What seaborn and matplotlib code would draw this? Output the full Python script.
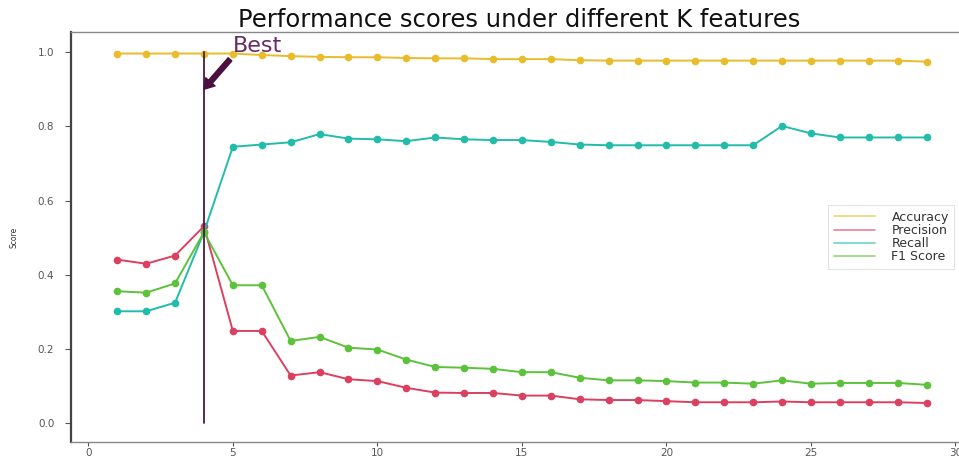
import matplotlib
matplotlib.use("Agg")
import matplotlib.pyplot as plt
from matplotlib.lines import Line2D
import numpy as np
import pandas as pd
import seaborn as sns

# Number of selected features K
k_values = list(range(1, 30))

accuracy = [0.996, 0.996, 0.996, 0.996, 0.996, 0.992, 0.989, 0.987, 0.986, 0.986,
            0.984, 0.983, 0.983, 0.981, 0.981, 0.981, 0.978, 0.977, 0.977, 0.977,
            0.977, 0.977, 0.977, 0.977, 0.977, 0.977, 0.977, 0.977, 0.974]
precision = [0.441, 0.430, 0.452, 0.531, 0.249, 0.249, 0.129, 0.138, 0.119, 0.114,
             0.096, 0.083, 0.082, 0.082, 0.075, 0.075, 0.065, 0.063, 0.063, 0.060,
             0.057, 0.057, 0.057, 0.059, 0.057, 0.057, 0.057, 0.057, 0.055]
recall = [0.302, 0.302, 0.325, 0.515, 0.745, 0.751, 0.757, 0.779, 0.767, 0.765,
          0.760, 0.770, 0.765, 0.763, 0.763, 0.758, 0.751, 0.749, 0.749, 0.749,
          0.749, 0.749, 0.749, 0.801, 0.781, 0.770, 0.770, 0.770, 0.770]
f1_score = [0.356, 0.352, 0.377, 0.515, 0.372, 0.372, 0.222, 0.233, 0.204, 0.199,
            0.172, 0.152, 0.150, 0.147, 0.138, 0.138, 0.123, 0.116, 0.116, 0.114,
            0.110, 0.110, 0.107, 0.116, 0.107, 0.109, 0.109, 0.109, 0.104]

series_names = ["Accuracy", "Precision", "Recall", "F1 Score"]
series_colors = ["#e8bc2a", "#dc4060", "#22bcaa", "#5cc23c"]
best_k = 4

sns.set_style("ticks")
plt.rcParams["font.family"] = ["DejaVu Sans"]

df = pd.DataFrame({"K": k_values, "Accuracy": accuracy, "Precision": precision,
                   "Recall": recall, "F1 Score": f1_score})
long_df = df.melt(id_vars="K", var_name="Metric", value_name="Score")

fig = plt.figure(figsize=(9.59, 4.59), dpi=100)
ax = fig.add_axes([71 / 959, 17 / 459, 896 / 959, 410 / 459])

sns.lineplot(data=long_df, x="K", y="Score", hue="Metric", hue_order=series_names,
             palette=dict(zip(series_names, series_colors)), marker="o",
             markersize=5.5, markeredgewidth=0, linewidth=1.4, legend=False, ax=ax)

# Best K marker: vertical segment from 0 to 1 with an arrow annotation
ax.plot([best_k, best_k], [0, 1], color="#4a1a40", linewidth=1.3)
ax.annotate("Best", xy=(best_k, 0.9), xytext=(best_k + 1, 1.0),
            color="#6a2a66", fontsize=16,
            arrowprops=dict(facecolor="#4a1040", edgecolor="#4a1040",
                            width=3.5, headwidth=9, headlength=7, shrink=0.0))

ax.set_xlim(-0.6, 30.4)
ax.set_ylim(-0.05, 1.054)
ax.set_xticks([0, 5, 10, 15, 20, 25, 30])
ax.set_yticks([0.0, 0.2, 0.4, 0.6, 0.8, 1.0])
ax.set_yticklabels(["0.0", "0.2", "0.4", "0.6", "0.8", "1.0"])
ax.tick_params(axis="y", labelsize=7.5, length=4, pad=8, colors="#555555")
ax.tick_params(axis="x", labelsize=7.5, length=3, pad=1.5, colors="#555555")

ax.set_title("Performance scores under different K features", fontsize=17.5,
             pad=3, color="#111111")
ax.set_ylabel("Score", fontsize=5.5, labelpad=14, color="#333333")
ax.set_xlabel("K", fontsize=5.5, labelpad=1, color="#333333")

ax.spines["left"].set_color("#444444")
ax.spines["left"].set_linewidth(1.6)
for side in ["bottom", "top"]:
    ax.spines[side].set_color("#888888")
    ax.spines[side].set_linewidth(1.0)

handles = [Line2D([], [], color=c, linewidth=1.3, alpha=0.6) for c in series_colors]
leg = ax.legend(handles, series_names, loc="center right", fontsize=9,
                labelspacing=0.02, handlelength=3.3, handletextpad=1.3,
                borderpad=0.45, frameon=True, fancybox=False,
                bbox_to_anchor=(0.993, 0.5))
leg.get_frame().set_edgecolor("#dddddd")
leg.get_frame().set_linewidth(0.8)
for t in leg.get_texts():
    t.set_color("#333333")

fig.savefig("out.png", dpi=100)
